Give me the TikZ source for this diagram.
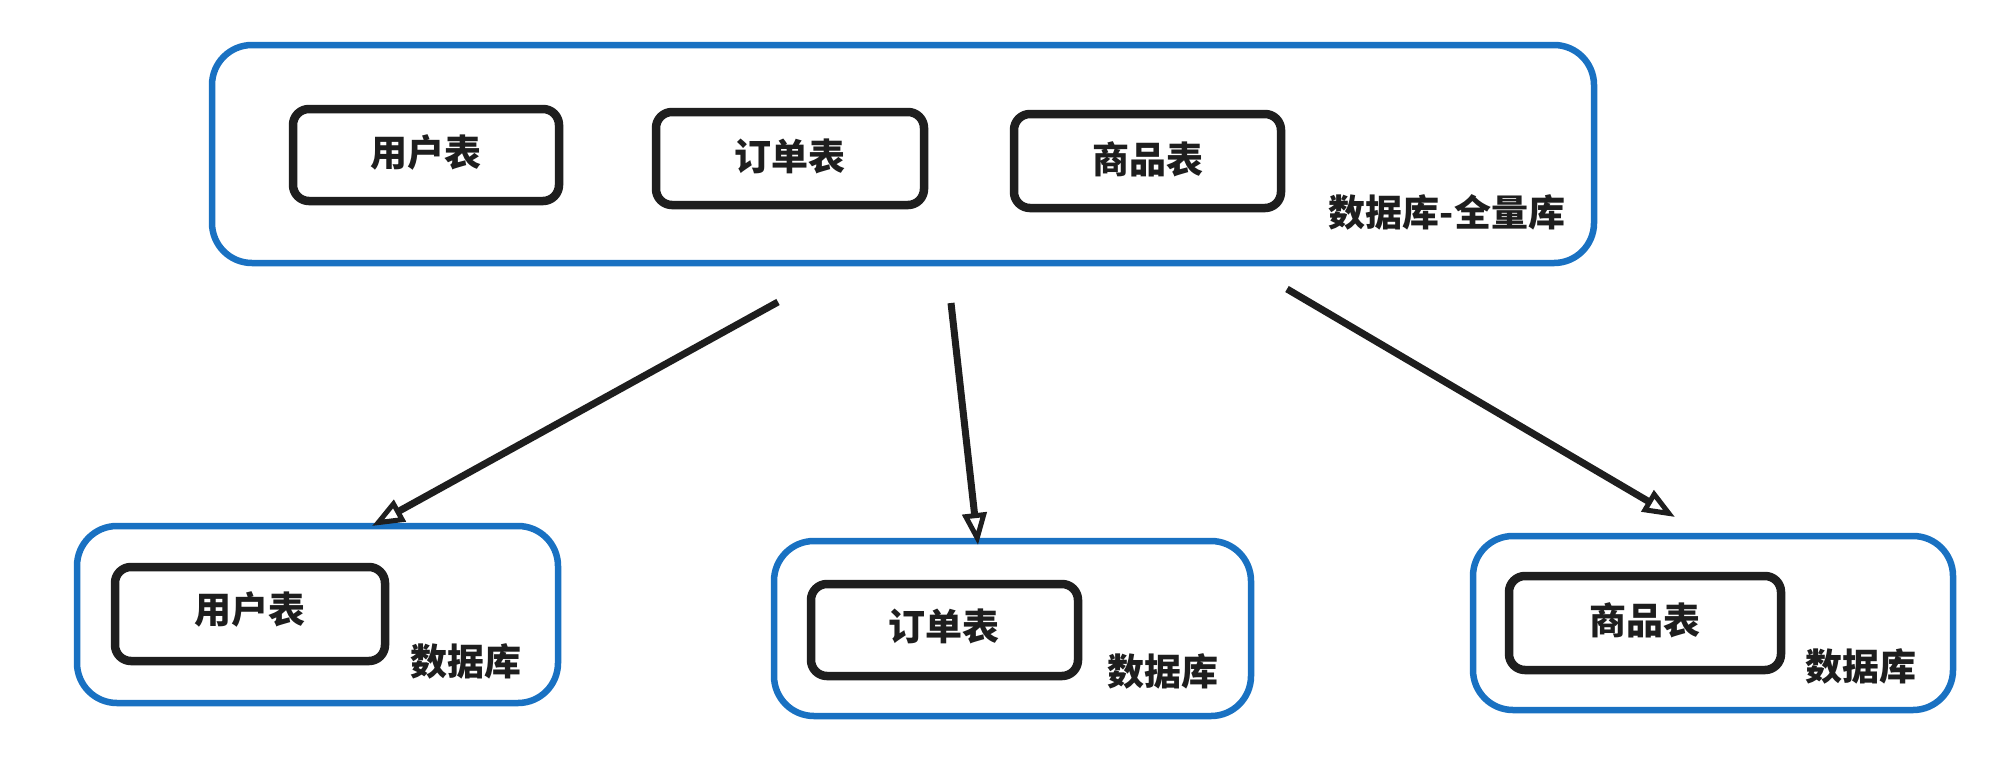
\documentclass[tikz,border=0pt]{standalone}
\usepackage{fontspec}
\newfontfamily\cjk{Noto Sans CJK SC}
\usetikzlibrary{arrows.meta}
\definecolor{exblue}{HTML}{1971C2}
\definecolor{exink}{HTML}{1E1E1E}
\tikzset{
  dbbox/.style={draw=exblue, line width=6.5pt, rounded corners=40pt, fill=white},
  tblbox/.style={draw=exink, line width=8.5pt, rounded corners=16pt, fill=white},
  txt/.style={text=exink, font=\cjk\bfseries\fontsize{37}{44}\selectfont},
  conn/.style={draw=exink, line width=7pt, -{Triangle[open, length=32pt, width=24pt, line width=5pt]}}
}
\begin{document}
\begin{tikzpicture}[x=1pt, y=-1pt]
\useasboundingbox (0,0) rectangle (2012,772);
% top full database
\draw[dbbox] (212,45) rectangle (1594,263);
\node[txt] (toplbl) at (1447,212) {数据库-全量库};
\draw[tblbox] (293,109) rectangle (559,201);
\node[txt] (t1) at (426,152) {用户表};
\draw[tblbox] (656,112) rectangle (924,205);
\node[txt] (t2) at (790,156) {订单表};
\draw[tblbox] (1014,114) rectangle (1281,208);
\node[txt] (t3) at (1148,159) {商品表};
% bottom left
\draw[dbbox] (77,526) rectangle (558,703);
\draw[tblbox] (115,567) rectangle (385,661);
\node[txt] (b1) at (250,609) {用户表};
\node[txt] (l1) at (466,661) {数据库};
% bottom middle
\draw[dbbox] (774,541) rectangle (1251,716);
\draw[tblbox] (811,584) rectangle (1078,676);
\node[txt] (b2) at (944,626) {订单表};
\node[txt] (l2) at (1163,671) {数据库};
% bottom right
\draw[dbbox] (1473,536) rectangle (1953,710);
\draw[tblbox] (1509,576) rectangle (1781,670);
\node[txt] (b3) at (1645,620) {商品表};
\node[txt] (l3) at (1861,666) {数据库};
% connectors
\coordinate (s1) at (778,302);
\coordinate (e1) at (372,526);
\coordinate (s2) at (951,303);
\coordinate (e2) at (978,545);
\coordinate (s3) at (1287,289);
\coordinate (e3) at (1675,517);
\draw[conn] (s1) -- (e1);
\draw[conn] (s2) -- (e2);
\draw[conn] (s3) -- (e3);
\end{tikzpicture}
\end{document}
